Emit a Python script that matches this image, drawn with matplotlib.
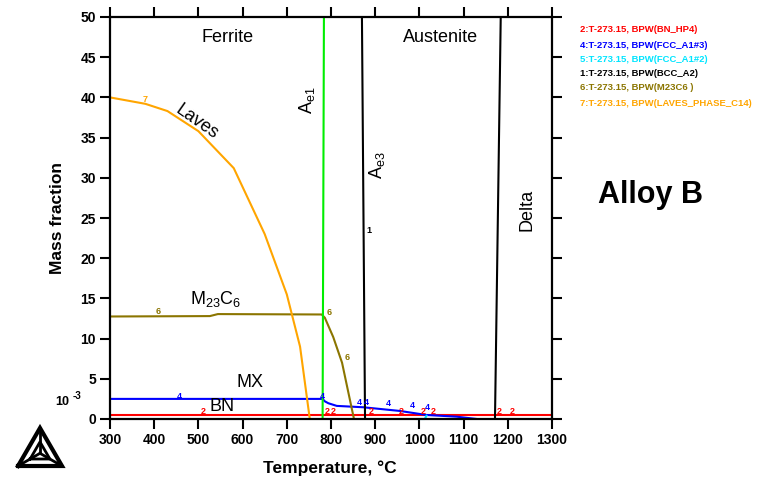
import matplotlib
matplotlib.use("Agg")
import matplotlib.pyplot as plt

plt.rcParams['font.family'] = ['Liberation Sans', 'DejaVu Sans']
plt.rcParams['mathtext.fontset'] = 'custom'
plt.rcParams['mathtext.rm'] = 'Liberation Sans'
plt.rcParams['mathtext.it'] = 'Liberation Sans'
plt.rcParams['mathtext.bf'] = 'Liberation Sans:bold'

# ---------------- data ----------------
T_laves = [300, 380, 430, 500, 580, 650, 700, 730, 752]
laves = [40.0, 39.2, 38.3, 35.8, 31.2, 23.0, 15.5, 9.0, 0.0]

T_m23 = [300, 526, 544, 779, 786, 805, 825, 852]
m23 = [12.75, 12.8, 13.05, 13.0, 12.6, 10.2, 7.0, 0.0]

T_mx = [300, 781, 786, 794, 813, 873, 956, 1016, 1084, 1130]
mx = [2.5, 2.5, 2.2, 1.96, 1.63, 1.46, 1.0, 0.5, 0.29, 0.0]

T_bn = [300, 1300]
bn = [0.45, 0.45]

T_fcc2 = [995, 1012, 1016]
fcc2 = [0.0, 0.0, 0.4]

T_ae1 = [781, 784]
T_ae3 = [877, 870]
T_delta = [1171, 1184]
v_vert = [0, 50]

legend_labels = ["2:T-273.15, BPW(BN_HP4)",
                 "4:T-273.15, BPW(FCC_A1#3)",
                 "5:T-273.15, BPW(FCC_A1#2)",
                 "1:T-273.15, BPW(BCC_A2)",
                 "6:T-273.15, BPW(M23C6 )",
                 "7:T-273.15, BPW(LAVES_PHASE_C14)"]

x_ticks = list(range(300, 1301, 100))
y_ticks = list(range(0, 51, 5))

# colours
RED = '#ff0000'
BLUE = '#0000ff'
CYAN = '#00e5ff'
BLACK = '#000000'
OLIVE = '#8b7500'
ORANGE = '#ffa500'
GREEN = '#00ee00'

W, H = 772, 482
fig = plt.figure(figsize=(W / 100, H / 100), dpi=100)
ax = fig.add_axes([110 / W, 1 - 419 / H, 442 / W, 402 / H])

ax.plot(T_bn, bn, color=RED, lw=1.5)
ax.plot(T_mx, mx, color=BLUE, lw=1.5)
ax.plot(T_fcc2, fcc2, color=CYAN, lw=1.5, clip_on=False)
ax.plot(T_ae3, v_vert, color=BLACK, lw=1.5)
ax.plot(T_delta, v_vert, color=BLACK, lw=1.5)
ax.plot(T_m23, m23, color=OLIVE, lw=1.5)
ax.plot(T_laves, laves, color=ORANGE, lw=1.5)
ax.plot(T_ae1, v_vert, color=GREEN, lw=1.5)

ax.set_xlim(300, 1300)
ax.set_ylim(0, 50)
ax.set_xticks(x_ticks)
ax.set_yticks(y_ticks)
ax.tick_params(axis='both', direction='out', length=7, width=1.5,
               top=True, right=True, labeltop=False, labelright=False,
               labelsize=10, pad=3)
for lab in ax.get_xticklabels() + ax.get_yticklabels():
    lab.set_fontweight('bold')
for s in ax.spines.values():
    s.set_linewidth(1.6)

# curve id numbers
def num(T, v, s, c):
    ax.text(T, v, s, color=c, fontsize=6.5, fontweight='bold',
            ha='center', va='center')

num(379, 39.8, '7', ORANGE)
num(409, 13.4, '6', OLIVE)
num(795, 13.3, '6', OLIVE)
num(836, 7.6, '6', OLIVE)
num(887, 23.5, '1', BLACK)
for T, v in [(456, 2.85), (781, 2.85), (865, 2.05), (881, 2.05), (929, 1.9),
             (983, 1.7), (1019, 1.45)]:
    num(T, v, '4', BLUE)
for T in [510, 792, 805, 890, 960, 1008, 1032, 1181, 1209]:
    num(T, 0.95, '2', RED)

# region labels
ax.text(565, 47.4, 'Ferrite', fontsize=13, ha='center', va='center')
ax.text(1047, 47.4, 'Austenite', fontsize=13, ha='center', va='center')
ax.text(497, 36.9, 'Laves', fontsize=13, ha='center', va='center', rotation=-35)
ax.text(746, 39.7, r'A$_{\mathrm{e1}}$', fontsize=13, ha='center', va='center', rotation=90)
ax.text(904, 31.6, r'A$_{\mathrm{e3}}$', fontsize=13, ha='center', va='center', rotation=90)
ax.text(1243, 26.0, 'Delta', fontsize=13, ha='center', va='center', rotation=90)
ax.text(538, 14.9, r'M$_{23}$C$_{6}$', fontsize=13, ha='center', va='center')
ax.text(617, 4.5, 'MX', fontsize=13, ha='center', va='center')
ax.text(553, 1.5, 'BN', fontsize=13, ha='center', va='center')

# axis labels
fig.text(58 / W, 1 - 218 / H, 'Mass fraction', fontsize=12.5, fontweight='bold',
         rotation=90, ha='center', va='center')
fig.text(330 / W, 1 - 468 / H, 'Temperature, \u00b0C', fontsize=12.5,
         fontweight='bold', ha='center', va='center')
fig.text(62 / W, 1 - 402 / H, '10', fontsize=9, fontweight='bold',
         ha='center', va='center')
fig.text(73 / W, 1 - 396 / H, '-3', fontsize=7, fontweight='bold',
         ha='left', va='center')

fig.text(650 / W, 1 - 195 / H, 'Alloy B', fontsize=22, fontweight='bold',
         ha='center', va='center')

# legend text
leg_cols = [RED, BLUE, CYAN, BLACK, OLIVE, ORANGE]
leg_y = [30, 45, 59, 73, 88, 103]
for lab, c, y in zip(legend_labels, leg_cols, leg_y):
    fig.text(580 / W, 1 - y / H, lab, color=c, fontsize=6.8, fontweight='bold',
             ha='left', va='center')

# logo (Thermo-Calc style triangle)
lax = fig.add_axes([0, 0, 1, 1], facecolor='none')
lax.set_xlim(0, W)
lax.set_ylim(H, 0)
lax.axis('off')
ox = [18, 62, 40, 18]
oy = [466, 466, 428, 466]
lax.plot(ox, oy, color='black', lw=3, solid_joinstyle='miter')
cx, cy = 40, 453.3
ix = [cx + (x - cx) * 0.45 for x in ox]
iy = [cy + (y - cy) * 0.45 for y in oy]
lax.plot(ix, iy, color='black', lw=2)
for x, y in zip(ox[:3], oy[:3]):
    lax.plot([cx, x], [cy, y], color='black', lw=2)

fig.savefig('out.png', dpi=100)
